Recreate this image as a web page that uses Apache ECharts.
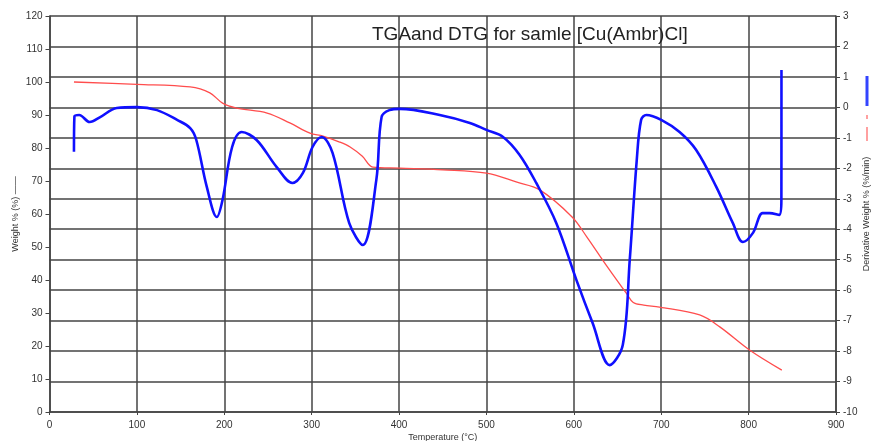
<!DOCTYPE html>
<html>
<head>
<meta charset="utf-8">
<script src="https://cdn.jsdelivr.net/npm/echarts@6/dist/echarts.min.js"></script>
<style>html,body{margin:0;padding:0;background:#fff}#c{width:871px;height:441px}</style>
</head>
<body>
<div id="c"></div>
<script>
// TGA (weight %, left axis): [temperature, value]
const tgaTemp = [28, 100, 161, 183.5, 198, 214, 249, 275, 298, 313, 332, 344, 358, 370, 401, 450, 500, 534, 561, 598, 615, 637, 660, 668, 680, 698, 744, 767, 801, 838];
const tgaWeight = [100, 99.3, 98.5, 96.7, 93.6, 92.1, 90.6, 87.6, 84.5, 83.6, 81.8, 80.3, 77.5, 74.2, 73.9, 73.4, 72.4, 69.7, 67.3, 59.1, 53, 44.5, 36, 33.2, 32.4, 31.8, 29.4, 25.8, 18.8, 12.7];
// DTG (derivative weight %/min, right axis)
const dtgTemp = [28, 28.5, 34, 46, 58, 77, 100, 123, 146, 161, 168, 180, 191.5, 198, 209, 220, 237, 260, 278, 290, 301, 311.5, 324, 343, 358.5, 374, 380, 389, 401, 446.5, 481, 500, 519, 538, 557, 580, 603, 621.5, 641, 656, 664, 672, 677, 683, 700, 721, 740, 763, 782, 793.5, 805, 816, 824, 835, 837.5, 837.6];
const dtgValue = [-1.46, -0.3, -0.25, -0.48, -0.32, -0.02, 0.01, -0.09, -0.41, -0.68, -1.07, -2.61, -3.6, -3.04, -1.3, -0.81, -1.07, -1.96, -2.48, -2.15, -1.3, -0.97, -1.5, -3.8, -4.52, -2.38, -0.32, -0.09, -0.05, -0.25, -0.51, -0.74, -0.97, -1.56, -2.48, -3.8, -5.67, -7.08, -8.46, -7.8, -5.0, -1.73, -0.41, -0.25, -0.41, -0.81, -1.4, -2.61, -3.8, -4.42, -4.12, -3.47, -3.47, -3.53, -3.04, 1.23];
const xTicks = [0, 100, 200, 300, 400, 500, 600, 700, 800, 900];
const leftTicks = [0, 10, 20, 30, 40, 50, 60, 70, 80, 90, 100, 110, 120];
const rightTicks = [-10, -9, -8, -7, -6, -5, -4, -3, -2, -1, 0, 1, 2, 3];

const tgaData = tgaTemp.map((t, i) => [t, tgaWeight[i]]);
const dtgData = dtgTemp.map((t, i) => [t, dtgValue[i]]);

const chart = echarts.init(document.getElementById('c'));
const FF = 'Liberation Sans, Arial, sans-serif';
const lbl = {color: '#333', fontSize: 10, fontFamily: FF};
chart.setOption({
  animation: false,
  title: {
    text: 'TGAand DTG for samle [Cu(Ambr)Cl]',
    left: 367, top: 20,
    textStyle: {color: '#222', fontSize: 19, fontWeight: 'normal', fontFamily: FF}
  },
  grid: {left: 49.5, right: 35, top: 16, bottom: 29, containLabel: false, outerBoundsMode: 'none'},
  xAxis: {
    type: 'value', min: xTicks[0], max: xTicks[xTicks.length - 1], interval: 100,
    name: 'Temperature (°C)', nameLocation: 'middle', nameGap: 21, nameMoveOverlap: false,
    nameTextStyle: {color: '#333', fontSize: 9, fontFamily: FF},
    axisLine: {lineStyle: {color: '#444', width: 1.5}},
    axisTick: {show: true, length: 3, lineStyle: {color: '#444'}},
    axisLabel: Object.assign({margin: 8}, lbl),
    splitLine: {show: true, lineStyle: {color: '#444', width: 1.5}}
  },
  yAxis: [{
    type: 'value', min: leftTicks[0], max: leftTicks[leftTicks.length - 1], interval: 10,
    name: 'Weight % (%) ——', nameLocation: 'middle', nameGap: 29, nameRotate: 90, nameMoveOverlap: false,
    nameTextStyle: {color: '#333', fontSize: 9, fontFamily: FF},
    axisLine: {show: true, lineStyle: {color: '#444', width: 1.5}},
    axisTick: {show: true, length: 4, lineStyle: {color: '#444'}},
    axisLabel: Object.assign({margin: 7}, lbl),
    splitLine: {show: false}
  }, {
    type: 'value', min: rightTicks[0], max: rightTicks[rightTicks.length - 1], interval: 1,
    position: 'right',
    name: 'Derivative Weight % (%/min)', nameLocation: 'middle', nameGap: 26, nameRotate: 90, nameMoveOverlap: false,
    nameTextStyle: {color: '#333', fontSize: 9, fontFamily: FF},
    axisLine: {show: true, lineStyle: {color: '#444', width: 1.5}},
    axisTick: {show: true, length: 4, lineStyle: {color: '#444'}},
    axisLabel: Object.assign({margin: 7}, lbl),
    splitLine: {show: true, lineStyle: {color: '#444', width: 1.5}}
  }],
  series: [{
    type: 'line', yAxisIndex: 0, data: tgaData, smooth: 0.35, showSymbol: false,
    lineStyle: {color: '#ff4d4d', width: 1.3}, z: 3
  }, {
    type: 'line', yAxisIndex: 1, data: dtgData, smooth: 0.35, showSymbol: false,
    lineStyle: {color: '#1010ff', width: 2.6}, z: 4
  }],
  graphic: [
    {type: 'line', shape: {x1: 867, y1: 76, x2: 867, y2: 106}, style: {stroke: '#3344ff', lineWidth: 3}},
    {type: 'line', shape: {x1: 867, y1: 115, x2: 867, y2: 119}, style: {stroke: '#ff8080', lineWidth: 1.5}},
    {type: 'line', shape: {x1: 867, y1: 127, x2: 867, y2: 141}, style: {stroke: '#ff8080', lineWidth: 1.5}}
  ]
});
</script>
</body>
</html>
